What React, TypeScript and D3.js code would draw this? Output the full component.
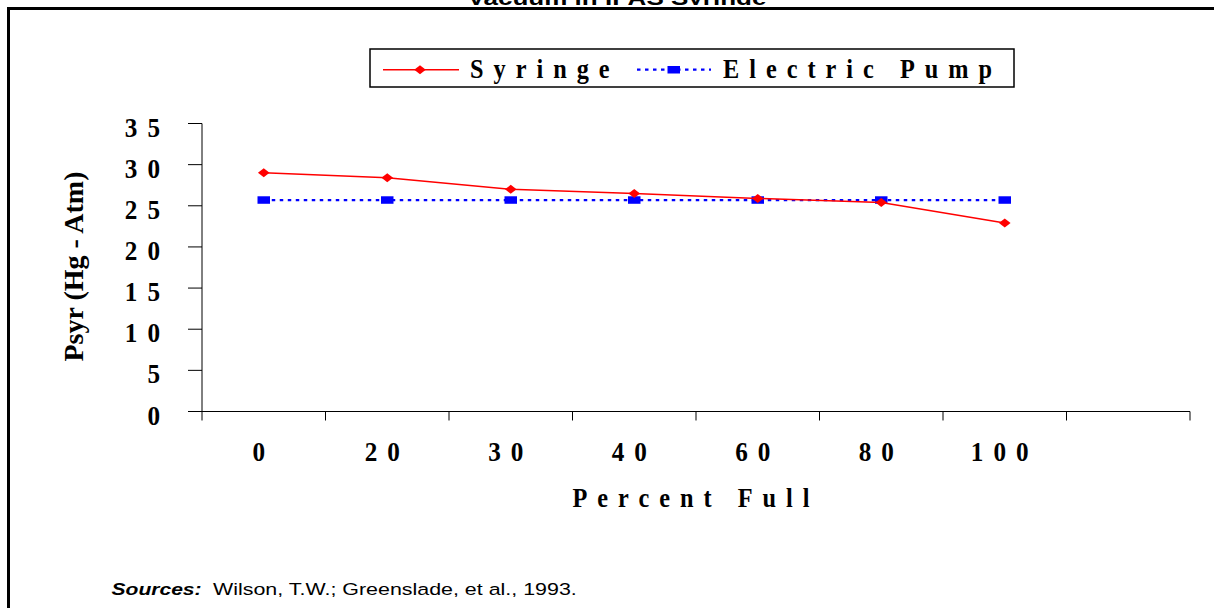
import React from "react";
import * as d3 from "d3";

const categories = ["0", "20", "30", "40", "60", "80", "100", ""];
const syringe = [29.0, 28.4, 27.0, 26.5, 25.9, 25.4, 22.9];
const electricPump = [25.7, 25.7, 25.7, 25.7, 25.7, 25.7, 25.7];
const yTicks = [0, 5, 10, 15, 20, 25, 30, 35];
const seriesNames = ["Syringe", "Electric Pump"];
const title = "Vacuum in IPAS Syringe";
const yTitle = "Psyr (Hg - Atm)";
const xTitle = "Percent Full";
const sourceLabel = "Sources:";
const sourceText = "Wilson, T.W.; Greenslade, et al., 1993.";

const W = 1214;
const H = 608;
const serif = "'Liberation Serif','Times New Roman',serif";
const sans = "'Liberation Sans',Arial,sans-serif";

const x = d3.scaleBand<string>().domain(categories.map((c, i) => i + ":" + c)).range([202, 1190]).padding(0);
const y = d3.scaleLinear().domain([0, 35]).range([411.5, 123.5]);
const xKey = (i: number) => i + ":" + categories[i];
const cx = (i: number) => (x(xKey(i)) as number) + x.bandwidth() / 2;

function Spaced({ x0, y0, text, size = 27, ls = 10, sx = 0.9, anchor = "start" }: any) {
  return (
    <text
      transform={`translate(${x0},${y0}) scale(${sx},1)`}
      fontFamily={serif}
      fontWeight="bold"
      fontSize={size}
      letterSpacing={ls / sx}
      textAnchor={anchor}
      fill="#000"
    >
      {text}
    </text>
  );
}

const diamond = (px: number, py: number) => `M${px},${py - 4.5}L${px + 5.8},${py}L${px},${py + 4.5}L${px - 5.8},${py}Z`;

export default function App() {
  const lineGen = d3
    .line<number>()
    .x((_, i) => cx(i))
    .y((d) => y(d));
  const ticksX = categories.map((_, i) => x(xKey(i)) as number).concat([x.range()[1]]);
  return (
    <svg width={W} height={H} style={{ position: "absolute", left: 0, top: 0, background: "#fff" }}>
      <defs>
        <clipPath id="titleClip">
          <rect x={0} y={0} width={W} height={5} />
        </clipPath>
      </defs>
      <rect x={0} y={0} width={W} height={H} fill="#fff" />
      <g clipPath="url(#titleClip)">
        <text
          transform={`translate(617,4.5) scale(1.24,1)`}
          fontFamily={sans}
          fontWeight="bold"
          fontSize={21}
          textAnchor="middle"
        >
          {title}
        </text>
      </g>
      <rect x={8.5} y={8.5} width={W + 20} height={H + 20} fill="none" stroke="#000" strokeWidth={3} />

      {/* legend */}
      <rect x={370} y={49} width={644} height={38} fill="#fff" stroke="#000" strokeWidth={1.5} />
      <line x1={383} x2={459} y1={69.7} y2={69.7} stroke="#ff0000" strokeWidth={1.5} />
      <path d={diamond(420, 69.7)} fill="#ff0000" />
      <Spaced x0={470} y0={78.3} text={seriesNames[0]} />
      <line x1={637} x2={711} y1={69.7} y2={69.7} stroke="#0000ff" strokeWidth={2.3} strokeDasharray="3.5 4.5" />
      <rect x={667.5} y={66} width={12.5} height={7.5} fill="#0000ff" />
      <Spaced x0={723} y0={78.3} text={seriesNames[1]} />

      {/* y axis */}
      <line x1={202} x2={202} y1={y(35)} y2={y(0)} stroke="#000" strokeWidth={1} />
      {yTicks.map((t) => (
        <g key={t}>
          <line x1={188} x2={202} y1={y(t)} y2={y(t)} stroke="#000" strokeWidth={1} />
          <Spaced x0={170} y0={y(t) + 13} text={String(t)} size={28} anchor="end" />
        </g>
      ))}
      {/* x axis */}
      <line x1={202} x2={x.range()[1]} y1={y(0)} y2={y(0)} stroke="#000" strokeWidth={1} />
      {ticksX.map((tx, i) => (
        <line key={i} x1={tx} x2={tx} y1={y(0)} y2={y(0) + 9} stroke="#000" strokeWidth={1} />
      ))}
      {categories.map((c, i) =>
        c ? <Spaced key={i} x0={cx(i)} y0={461} text={c} size={28} anchor="middle" /> : null
      )}
      <Spaced x0={696} y0={507} text={xTitle} size={27} anchor="middle" />
      <text
        transform={`translate(83,266.5) rotate(-90)`}
        fontFamily={serif}
        fontWeight="bold"
        fontSize={28}
        textAnchor="middle"
      >
        {yTitle}
      </text>

      {/* series */}
      <path d={lineGen(electricPump) as string} fill="none" stroke="#0000ff" strokeWidth={2.3} strokeDasharray="3.5 4.5" />
      {electricPump.map((v, i) => (
        <rect key={i} x={cx(i) - 6.25} y={y(v) - 3.75} width={12.5} height={7.5} fill="#0000ff" />
      ))}
      <path d={lineGen(syringe) as string} fill="none" stroke="#ff0000" strokeWidth={1.5} />
      {syringe.map((v, i) => (
        <path key={i} d={diamond(cx(i), y(v))} fill="#ff0000" />
      ))}

      {/* source */}
      <text transform="translate(111.5,595) scale(1.24,1)" fontFamily={sans} fontSize={17} fontWeight="bold" fontStyle="italic" fill="#000">
        {sourceLabel}
      </text>
      <text transform="translate(213,595) scale(1.26,1)" fontFamily={sans} fontSize={17} fill="#000">
        {sourceText}
      </text>
    </svg>
  );
}
